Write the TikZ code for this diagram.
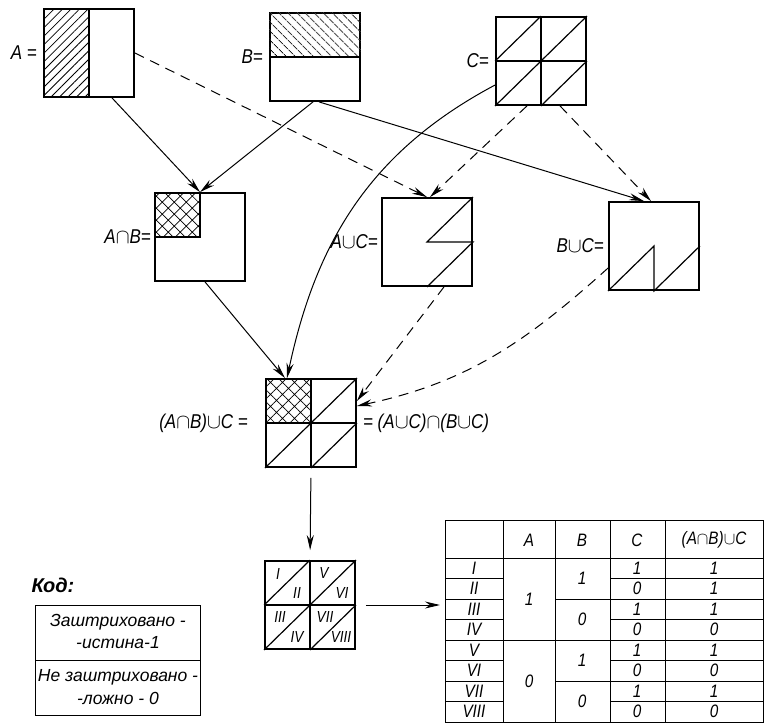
\documentclass[tikz,border=0pt]{standalone}
\usepackage{fontspec}
\setmainfont{Liberation Sans}[FakeStretch=0.85]
\newfontfamily\keyfont{Liberation Sans}
\usetikzlibrary{arrows.meta,patterns.meta,positioning}

\begin{document}
\begin{tikzpicture}[x=1pt,y=-1pt,
	sq/.style={draw,line width=1.8pt,minimum width=90pt,minimum height=88pt,inner sep=0pt},
	part/.style={line width=1.2pt},
	lbl/.style={font=\fontsize{20}{22}\selectfont\itshape,inner sep=1pt},
	keytext/.style={font=\keyfont\fontsize{17.5}{20}\selectfont\itshape,inner sep=0pt},
	arr/.style={line width=1pt,-{Stealth[length=15pt,width=7pt]}},
	darr/.style={arr,dash pattern=on 10pt off 7pt},
	hatchA/.style={pattern={Lines[angle=45,distance=6pt,line width=0.8pt]}},
	hatchB/.style={pattern={Lines[angle=-45,distance=6.5pt,line width=0.8pt]}},
	cross/.style={pattern={Hatch[angle=45,distance=8.5pt,line width=0.7pt]}},
	tline/.style={line width=0.8pt},
	tnum/.style={font=\fontsize{18}{20}\selectfont\itshape,inner sep=0pt},
	rom/.style={font=\fontsize{16}{18}\selectfont\itshape,inner sep=0pt}]
	\useasboundingbox (0,0) rectangle (765,725);
	
	% the three sets
	\node[sq] (A) at (89,53) {};
	\fill[hatchA] (A.north west) rectangle (A.south);
	\draw[part] (A.north)--(A.south);
	\node[lbl,left=5pt of A] (lA) {A =};
	
	\node[sq] (B) at (315,57) {};
	\fill[hatchB] (B.north west) rectangle (B.east);
	\draw[part] (B.west)--(B.east);
	\node[lbl,left=5pt of B] (lB) {B=};
	
	\node[sq] (C) at (541,61) {};
	\draw[part] (C.north)--(C.south);
	\draw[part] (C.west)--(C.east);
	\draw[part] (C.west)--(C.north);
	\draw[part] (C.center)--(C.north east);
	\draw[part] (C.south west)--(C.center);
	\draw[part] (C.south)--(C.east);
	\node[lbl,left=5pt of C] (lC) {C=};
	
	% intersections and unions
	\node[sq] (AB) at (200,237) {};
	\fill[cross] (AB.north west) rectangle (AB.center);
	\draw[part] (AB.north)--(AB.center)--(AB.west);
	\node[lbl,left=2pt of AB] (lAB) {A$\cap$B=};
	
	\node[sq] (AC) at (427,242) {};
	\draw[part] (AC.north east)--(AC.center)--(AC.east)--(AC.south);
	\node[lbl,left=2pt of AC] (lAC) {A$\cup$C=};
	
	\node[sq] (BC) at (654,246) {};
	\draw[part] (BC.south west)--(BC.center)--(BC.south)--(BC.east);
	\node[lbl,left=3pt of BC] (lBC) {B$\cup$C=};
	
	\node[sq] (ABC) at (311,423) {};
	\fill[cross] (ABC.north west) rectangle (ABC.center);
	\draw[part] (ABC.north)--(ABC.south);
	\draw[part] (ABC.west)--(ABC.east);
	\draw[part] (ABC.north east)--(ABC.south west);
	\draw[part] (ABC.south)--(ABC.east);
	\node[lbl,left=16pt of ABC] (lABC) {(A$\cap$B)$\cup$C =};
	\node[lbl,right=5pt of ABC] (rABC) {= (A$\cup$C)$\cap$(B$\cup$C)};
	
	% numbered square
	\node[sq] (K) at (310,605) {};
	\draw[part] (K.north)--(K.south);
	\draw[part] (K.west)--(K.east);
	\draw[part] (K.west)--(K.north);
	\draw[part] (K.center)--(K.north east);
	\draw[part] (K.south west)--(K.center);
	\draw[part] (K.south)--(K.east);
	\node[rom] (k1) at (278,574) {I};
	\node[rom] (k2) at (297,593) {II};
	\node[rom] (k5) at (324,573) {V};
	\node[rom] (k6) at (342,593) {VI};
	\node[rom] (k3) at (280,617) {III};
	\node[rom] (k4) at (297,637) {IV};
	\node[rom] (k7) at (325,617) {VII};
	\node[rom] (k8) at (341,637) {VIII};
	
	% connectors
	\draw[arr] ([xshift=23pt]A.south) -- (AB.north);
	\draw[arr] ([xshift=-2pt]B.south) -- (AB.north);
	\draw[arr] ([xshift=4pt]B.south) -- ([xshift=-10pt]BC.north);
	\draw[darr] (A.east) -- (AC.north);
	\draw[darr] ([xshift=-14pt]C.south) -- ([xshift=3pt]AC.north);
	\draw[darr] ([xshift=19pt]C.south) -- ([xshift=-3pt]BC.north);
	\draw[arr] ([yshift=-24pt]C.west) to[out=208,in=78] ([xshift=-24pt]ABC.north);
	\draw[arr] ([xshift=5pt]AB.south) -- ([xshift=-26pt]ABC.north);
	\draw[darr] ([xshift=17pt]AC.south) -- ([yshift=22pt]ABC.east);
	\draw[darr] ([yshift=-22pt]BC.west) to[out=222,in=12] ([yshift=17pt]ABC.east);
	\draw[arr,shorten <=10pt,shorten >=10pt] (ABC.south) -- (K.north);
	
	% code
	\node[font=\keyfont\fontsize{20}{22}\selectfont\bfseries\itshape,anchor=west] (kod) at (28,585) {Код:};
	\node[draw,line width=1pt,minimum width=165pt,minimum height=110pt,anchor=north west,inner sep=0pt] (key) at (35,605) {};
	\draw[line width=0.8pt] (key.west)--(key.east);
	\node[keytext] (key1) at (118,622) {Заштриховано -};
	\node[keytext] (key2) at (118,643) {-истина-1};
	\node[keytext] (key3) at (118,677) {Не заштриховано -};
	\node[keytext] (key4) at (118,698) {-ложно - 0};
	
	% truth table
	\node[draw,tline,minimum width=318pt,minimum height=202pt,anchor=north west,inner sep=0pt] (tab) at (445,520) {};
	\draw[arr,shorten <=10pt,shorten >=5pt] (K.east) -- (K.east -| tab.west);
	\foreach \cx in {503,555,610,665}
		\draw[tline] (\cx,520) -- (\cx,722);
	\draw[tline] (445,558) -- (763,558);
	\foreach \k in {1,...,7}{
		\pgfmathsetmacro\ry{558+20.5*\k}
		\draw[tline] (445,\ry) -- (503,\ry);
		\draw[tline] (610,\ry) -- (763,\ry);
	}
	\foreach \k in {2,6}
		\draw[tline] (555,558+20.5*\k) -- (610,558+20.5*\k);
	\draw[tline] (503,640) -- (610,640);
	\node[tnum] (hA) at (529,540) {A};
	\node[tnum] (hB) at (582,540) {B};
	\node[tnum] (hC) at (637,540) {C};
	\node[tnum] (hR) at (714,540) {(A$\cap$B)$\cup$C};
	\foreach \n [count=\k] in {I,II,III,IV,V,VI,VII,VIII}
		\node[tnum] (n\k) at (474,547.75+20.5*\k) {\n};
	\foreach \v [count=\k] in {1,0,1,0,1,0,1,0}
		\node[tnum] (c\k) at (637,547.75+20.5*\k) {\v};
	\foreach \v [count=\k] in {1,1,1,0,1,0,1,0}
		\node[tnum] (f\k) at (714,547.75+20.5*\k) {\v};
	\foreach \v [count=\k] in {1,0,1,0}
		\node[tnum] (b\k) at (582,537.25+41*\k) {\v};
	\node[tnum] (a1) at (529,599) {1};
	\node[tnum] (a2) at (529,681) {0};
\end{tikzpicture}
\end{document}
